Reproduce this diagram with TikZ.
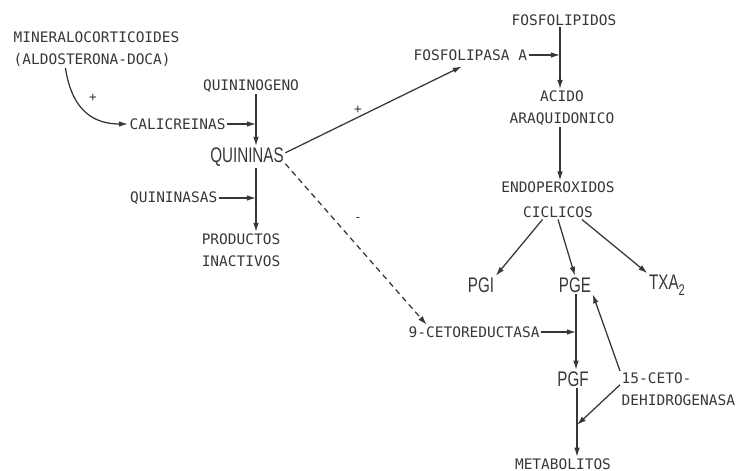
\documentclass[tikz,border=0pt]{standalone}
\usepackage{fontspec}
\setmonofont{DejaVu Sans Mono}
\newfontfamily\bigfont[FakeStretch=0.72]{Liberation Sans}
\definecolor{inkgray}{RGB}{55,55,55}
\usetikzlibrary{arrows.meta,positioning}

\begin{document}
\begin{tikzpicture}[x=0.025cm, y=-0.025cm,
    lbl/.style={inner sep=1pt, align=center, text=inkgray,
                font=\ttfamily\fontsize{10.3}{15.5}\selectfont},
    big/.style={inner sep=1pt, text=inkgray,
                font=\bigfont\fontsize{15}{18}\selectfont},
    arr/.style={-{Latex[length=6.5pt,width=4pt]}, line width=0.9pt, draw=inkgray},
    dsh/.style={arr, dash pattern=on 4pt off 3pt},
    sgn/.style={inner sep=0pt, text=inkgray, font=\ttfamily\small}
  ]
    \useasboundingbox (0,0) rectangle (742,471);

    % Kinin branch
    \node[lbl, align=left, anchor=west] (mineral) at (12,49) {MINERALOCORTICOIDES\\(ALDOSTERONA-DOCA)};
    \node[lbl, anchor=west] (cali)     at (128,124) {CALICREINAS};
    \node[lbl]              (quinog)   at (251,86)  {QUININOGENO};
    \node[big]              (quin)     at (247,157) {QUININAS};
    \node[lbl, anchor=east] (quinasas) at (219,198) {QUININASAS};
    \node[lbl]              (prod)     at (241,250) {PRODUCTOS\\INACTIVOS};

    % Arachidonic branch
    \node[lbl]              (fpid)  at (564,20)  {FOSFOLIPIDOS};
    \node[lbl, anchor=west] (fpasa) at (412,55)  {FOSFOLIPASA A};
    \node[lbl]              (acido) at (562,108) {ACIDO\\ARAQUIDONICO};
    \node[lbl]              (endo)  at (558,200) {ENDOPEROXIDOS\\[2pt]CICLICOS};
    \node[big]              (pgi)   at (481,285) {PGI};
    \node[big]              (pge)   at (575,285) {PGE};
    \node[big]              (txa)   at (667,285) {TXA\raisebox{-4pt}{\fontsize{11}{11}\selectfont 2}};
    \node[lbl, anchor=west] (ceto)  at (407,332) {9-CETOREDUCTASA};
    \node[big]              (pgf)   at (573,379) {PGF};
    \node[lbl, align=left, anchor=west] (dehid) at (620,389) {15-CETO-\\DEHIDROGENASA};
    \node[lbl]              (meta)  at (563,464) {METABOLITOS};

    % Junctions on the vertical lines
    \coordinate (j1) at (256,124);
    \coordinate (j2) at (256,198);
    \coordinate (j3) at (560,55);
    \coordinate (j4) at (576,332);
    \coordinate (j5) at (577,425);

    % Connectors
    \draw[arr] ([xshift=38pt]mineral.south west) .. controls (72,112) and (95,124) .. (cali.west);
    \node[sgn] (plus1) at (93,98) {+};
    \draw[arr] (quinog.south -| j1) -- (quin.north -| j1);
    \draw[arr] (cali.east) -- (j1);
    \draw[arr] (quin.south -| j2) -- (prod.north -| j2);
    \draw[arr] (quinasas.east) -- (j2);

    \draw[arr] ([yshift=3pt]quin.east) -- ([xshift=-6pt,yshift=-3pt]fpasa.south);
    \node[sgn] (plus2) at (358,110) {+};
    \draw[dsh] ([yshift=3pt]quin.south east) -- ([xshift=14pt]ceto.north west);
    \node[sgn] (minus) at (358,220) {-};

    \draw[arr] (fpid.south -| j3) -- (acido.north -| j3);
    \draw[arr] (fpasa.east) -- (j3);
    \draw[arr] (acido.south -| j3) -- (endo.north -| j3);
    \draw[arr] ([xshift=-11pt]endo.south) -- (pgi.north east);
    \draw[arr] (endo.south) -- (pge.north);
    \draw[arr] ([xshift=17pt]endo.south) -- (txa.north west);

    \draw[arr] (pge.south -| j4) -- (pgf.north -| j4);
    \draw[arr] (ceto.east) -- (j4);
    \draw[arr] (dehid.north west) -- (pge.south east);
    \draw[arr] ([yshift=3pt]dehid.west) -- (j5);
    \draw[arr] (pgf.south -| j5) -- (meta.north -| j5);
\end{tikzpicture}
\end{document}
